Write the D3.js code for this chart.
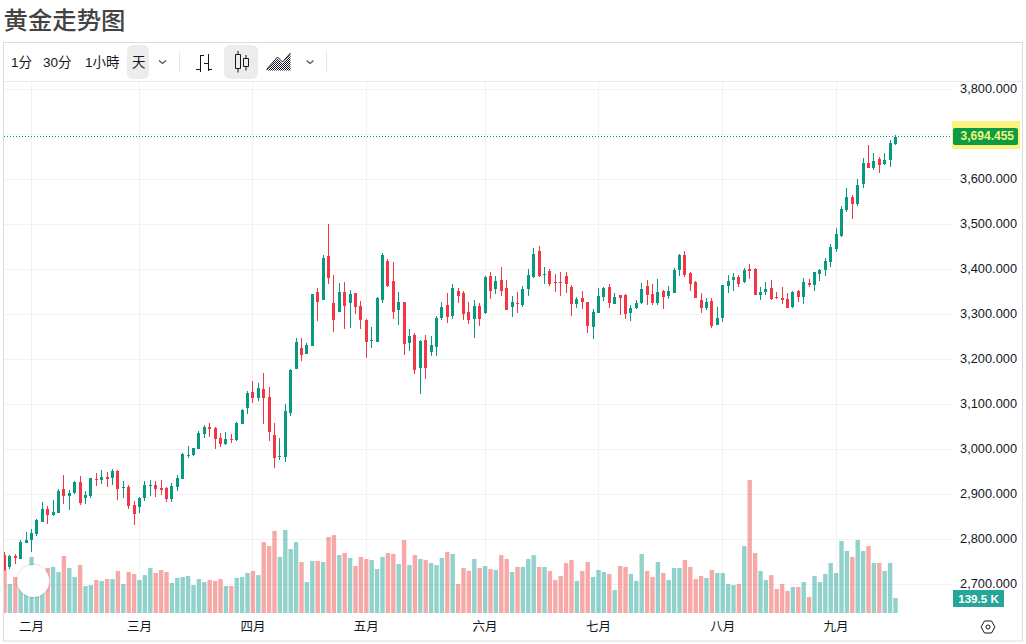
<!DOCTYPE html>
<html>
<head>
<meta charset="utf-8">
<script src="https://cdn.jsdelivr.net/npm/d3@7/dist/d3.min.js"></script>
<style>
  html, body { margin: 0; padding: 0; background: #fff; overflow: hidden; }
  svg { display: block; }
  text { font-family: "Liberation Sans", "Noto Sans CJK SC", sans-serif; fill: #131722; }
</style>
</head>
<body>
<div id="chart"></div>
<script>
const title = '黄金走势图';
const intervals = [['1分', 11], ['30分', 43], ['1小時', 85], ['天', 132]];

const priceTicks = [3800, 3700, 3600, 3500, 3400, 3300, 3200, 3100, 3000, 2900, 2800, 2700];
const monthLabels = ['二月', '三月', '四月', '五月', '六月', '七月', '八月', '九月'];
const monthBars = [5, 25, 46, 67, 89, 110, 133, 154];

const lastPrice = 3694.455;
const lastVolumeLabel = '139.5 K';

// daily candles, oldest first
const opens = [
  2764,2738.5,2763,2756,2792,2798.5,2812,2838.5,2867.4,2853.3,
  2858.5,2912,2896.3,2903,2927.4,2891.8,2896.3,2934,2932,2938.5,
  2936,2952,2914,2916,2876,2872,2891,2918,2920,2913.5,
  2913.5,2889,2915.7,2933.5,2984.6,2987,3000,3033.5,3049,3047,
  3024.6,3011,3022.4,3020,3055.7,3091,3127,3113.5,3133.5,3116,
  3031,2982,2982,3080,3178.7,3225,3212,3229.8,3349.8,3332,
  3429.8,3325.3,3305.3,3349.8,3325.3,3347.6,3318.7,3287.6,3241,3238.7,
  3332,3418.7,3374,3309.8,3327.6,3236.5,3254.2,3181,3243,3216.5,
  3227.6,3292,3321,3296.5,3352,3347.6,3305.3,3289.8,3318.7,3303,
  3385.3,3356.5,3376.3,3358.5,3316.3,3325.2,3320.7,3356.3,3383,3440.7,
  3387.4,3396.3,3371.9,3371.9,3385.2,3360.7,3323,3336.3,3327.4,3271.9,
  3303,3338.5,3360.7,3323,3343,3343,3303,3314,3325.2,3363,
  3345.2,3325.2,3351.8,3340.8,3347.4,3398.5,3431.9,3391.8,3371.9,3331.9,
  3314,3329.6,3276.3,3291.9,3363,3376.3,3383,3371.8,3400.7,3400.7,
  3342.9,3349.6,3358.5,3338.5,3336.3,3334,3316.3,3351.8,3338.5,3369.6,
  3365.2,3389.6,3398.5,3416.3,3445.2,3474,3531.8,3560.7,3545.2,3589.6,
  3636.3,3625.2,3645.2,3634,3643,3678.5
];
const highs = [
  2772,2765,2768,2798,2816,2823,2844,2883,2873,2886.6,
  2912,2943,2909,2929.6,2941,2907.4,2936.3,2947,2954,2949.6,
  2956,2954,2929.6,2921,2885,2894,2929,2931,2929,2931,
  2916,2924.6,2942,2991,3007,3002.4,3040,3053.5,3058,3049,
  3035.7,3038,3033.5,3060,3089,3129,3151,3147,3169,3138,
  3058,3024.6,3100,3178,3247.6,3247.6,3236.5,3345.3,3358.7,3432,
  3500.9,3387.6,3369.8,3372,3354.2,3347.6,3329.8,3289.8,3272,3338.7,
  3436.5,3423,3416.5,3349.8,3327.6,3267.6,3258.7,3243,3254.2,3252,
  3296.5,3327.6,3347.6,3367.6,3358.7,3352,3327.6,3332,3325.3,3385.3,
  3394,3385.3,3405.2,3376.3,3340.8,3349.6,3363,3400.7,3447.4,3451.8,
  3405.2,3400.7,3389.6,3394,3394,3365.2,3338.5,3351.8,3327.4,3311.9,
  3358.5,3360.7,3367.4,3347.4,3343,3345.2,3320.7,3331.9,3369.6,3376.3,
  3367.4,3378.5,3354,3363,3403,3434,3440.7,3394,3374,3347.4,
  3336.3,3336.3,3316.3,3365.2,3387.4,3391.8,3387.4,3403,3411.8,3403,
  3360.7,3371.8,3376.3,3349.6,3360.7,3347.4,3351.8,3354,3380.7,3378.5,
  3394,3400.7,3425.2,3456.3,3491.8,3540.7,3580.7,3565.2,3600.7,3647.4,
  3676.3,3658.5,3649.6,3658.5,3687.4,3698
];
const lows = [
  2729,2734,2745,2756,2792,2772,2807,2838,2834,2852.6,
  2858,2879,2865,2900.7,2876,2878.5,2892,2918.5,2923,2916,
  2921,2887,2892,2867,2832,2858,2885,2896,2893,2898,
  2882,2882,2907,2933,2980,2984.6,3000,3024.6,3027,3000,
  3004.6,3009,3013.5,3018,3055.7,3078,3102,3107,3056,3018,
  2958,2976,2971,3073.5,3178.7,3196.5,3212,3229.8,3285.3,3332,
  3367.6,3260.9,3305.3,3267.6,3269.8,3300.9,3267.6,3203,3225,3238.7,
  3325,3361,3289.8,3276.5,3209.8,3218.7,3167.6,3123,3156.5,3207.6,
  3207.6,3287.6,3280.9,3289.8,3325.3,3287.6,3278.7,3247.6,3274.2,3300.9,
  3334,3345.3,3340.8,3309.6,3294,3303,3316.3,3340.8,3380.8,3383,
  3367.4,3363,3349.6,3340.8,3347.4,3296.3,3314,3311.9,3258.5,3245.2,
  3303,3329.6,3314,3323,3298.5,3289.6,3285.2,3311.9,3323,3320.7,
  3320.7,3320.7,3311.9,3334,3347.4,3385.2,3383,3351.8,3336.3,3303,
  3309.6,3269.6,3276.3,3283,3347.4,3351.8,3360.7,3369.6,3378.5,3342.9,
  3331.8,3342.9,3331.8,3334,3323,3314,3314,3327.4,3323,3360.7,
  3351.8,3374,3385.2,3405.2,3438.5,3471.8,3527.4,3511.8,3540.7,3580.7,
  3625.2,3620.7,3614,3631.8,3627.4,3676.3
];
const closes = [
  2731,2763,2758,2793,2798.5,2814,2842,2866.6,2854,2860,
  2907.4,2896.3,2903.7,2927.4,2880.7,2898.5,2936.3,2932,2938.5,2934,
  2952,2912,2916,2874,2856,2892,2920,2920,2911,2909,
  2889,2918,2935.7,2989,2987,3002.4,3035.7,3049,3044.6,3022.4,
  3011,3022.4,3020,3058,3087,3124.6,3113.5,3135.7,3113.5,3038,
  2980,2984.6,3084.6,3175.8,3238.7,3209.8,3232,3345.3,3327.6,3425.3,
  3381,3287.6,3349.8,3318.7,3345.3,3316.5,3287.6,3238.7,3243,3336.5,
  3432,3363,3305.3,3327.6,3234.2,3252,3176.5,3241,3181,3232,
  3292,3316.5,3294.2,3358.7,3340.9,3300.9,3287.6,3318.7,3289.8,3383,
  3352,3374,3351.8,3309.6,3327.4,3323,3356.3,3387.4,3434,3385.2,
  3389.6,3367.4,3369.6,3369.6,3367.4,3323,3334,3327.4,3274,3305.2,
  3340.8,3358.5,3325.2,3338.5,3336.3,3300.7,3314,3325.2,3356.3,3343,
  3325.2,3349.6,3338.5,3351.8,3398.5,3431.9,3387.4,3367.4,3336.3,3314,
  3327.4,3274,3291.9,3365.2,3374,3383,3368,3398.5,3396.3,3342.9,
  3349.6,3356.3,3334,3336.3,3331.8,3314,3349.6,3338.5,3371.8,3365.2,
  3394,3398.5,3418.5,3449.6,3478.5,3534,3560.7,3545.2,3587.4,3636.3,
  3625.2,3640.7,3631.8,3643,3680.7,3694.455
];
// volume in thousands
const volumes = [
  406,270,335,340,390,521,400,360,418,428,
  381,530,418,335,446,251,260,307,298,316,
  316,391,270,381,363,307,353,418,372,400,
  381,279,326,335,344,260,316,288,307,298,
  316,251,251,326,335,372,391,353,660,623,
  763,521,772,595,660,474,288,484,484,474,
  707,725,539,558,512,437,521,502,493,409,
  521,558,549,456,679,446,539,502,493,465,
  446,512,567,549,270,419,391,502,419,437,
  409,400,539,502,381,428,428,502,539,428,
  428,391,307,344,465,493,298,391,474,335,
  400,381,363,214,437,428,363,298,549,391,
  335,474,372,307,419,419,493,428,316,344,
  326,400,372,372,270,260,270,623,1237,558,
  391,307,353,223,270,205,242,242,288,149,
  344,288,363,465,372,670,577,521,679,577,
  623,465,465,391,465,139.5
];

const bars = d3.range(opens.length);

const W = 1026, H = 644;
const plotLeft = 4, plotRight = 952, plotTop = 82, plotBottom = 613;

const svg = d3.select('#chart').append('svg').attr('width', W).attr('height', H);

const defs = svg.append('defs');
defs.append('clipPath').attr('id', 'plot-clip').append('rect')
  .attr('x', plotLeft).attr('y', plotTop)
  .attr('width', plotRight - plotLeft).attr('height', plotBottom - plotTop);
const hatch = defs.append('pattern').attr('id', 'hatch')
  .attr('width', 2).attr('height', 2).attr('patternUnits', 'userSpaceOnUse');
hatch.append('rect').attr('width', 1).attr('height', 1).attr('fill', '#131722');
hatch.append('rect').attr('x', 1).attr('y', 1).attr('width', 1).attr('height', 1).attr('fill', '#131722');
const blur = defs.append('filter').attr('id', 'soft').attr('x', '-30%').attr('y', '-30%').attr('width', '160%').attr('height', '160%');
blur.append('feDropShadow').attr('dx', 0).attr('dy', 0).attr('stdDeviation', 1.2).attr('flood-color', '#000').attr('flood-opacity', 0.3);

const x = d3.scaleLinear().domain([0, opens.length - 1]).range([4.5, 895.5]);
const y = d3.scaleLinear().domain([2700, 3800]).range([584.2, 89.2]);
const yVol = d3.scaleLinear().domain([0, 1237]).range([plotBottom, 480]);

// Title
svg.append('text').attr('x', 3.5).attr('y', 29)
  .attr('font-size', 24.4).attr('font-weight', 500)
  .style('font-family', '"Noto Sans CJK SC"').style('fill', '#434343')
  .text(title);

// Frame
svg.append('rect').attr('x', 3.5).attr('y', 42.5).attr('width', 1019).attr('height', 598.5)
  .attr('fill', 'none').attr('stroke', '#dcdcdc');
svg.append('line').attr('x1', 4).attr('x2', 1022).attr('y1', 81.5).attr('y2', 81.5)
  .attr('stroke', '#e9e9e9');

// Toolbar
const toolbar = svg.append('g');
toolbar.append('rect').attr('x', 127).attr('y', 45).attr('width', 22).attr('height', 34).attr('rx', 6).attr('fill', '#ececec');
toolbar.append('rect').attr('x', 224).attr('y', 45).attr('width', 34).attr('height', 34).attr('rx', 6).attr('fill', '#ececec');
toolbar.selectAll('text.interval').data(intervals).join('text')
  .attr('class', 'interval')
  .attr('x', d => d[1]).attr('y', 67)
  .attr('font-size', 13.5)
  .text(d => d[0]);
[162.5, 310].forEach(cx => {
  toolbar.append('path').attr('d', `M${cx - 3.5},60.5 L${cx},63.5 L${cx + 3.5},60.5`)
    .attr('fill', 'none').attr('stroke', '#4a4a4a').attr('stroke-width', 1.1);
});
[179.5, 326.5].forEach(sx => {
  toolbar.append('line').attr('x1', sx).attr('x2', sx).attr('y1', 51).attr('y2', 73).attr('stroke', '#e6e6e6');
});
toolbar.append('path')
  .attr('d', 'M200.5,55V72 M200.5,55.5H204 M196,69.5H200.5 M208.5,54V71 M204,63.5H208.5 M208.5,69.5H212')
  .attr('fill', 'none').attr('stroke', '#131722');
toolbar.append('path')
  .attr('d', 'M235.5,54.5H240.5V68.5H235.5Z M238,51V54.5 M238,68.5V72.5 M243.5,58.5H248.5V66.5H243.5Z M246,55V58.5 M246,66.5V70.5')
  .attr('fill', 'none').attr('stroke', '#131722');
toolbar.append('path')
  .attr('d', 'M266.5,70.5 L277.5,58 L282.5,63 L290.5,54 V70.5 Z')
  .attr('fill', 'url(#hatch)');
toolbar.append('path')
  .attr('d', 'M266.5,69.5 L277.5,57 L282.5,62 L290.5,53')
  .attr('fill', 'none').attr('stroke', '#131722').attr('stroke-width', 1);

// Grid
const grid = svg.append('g').attr('shape-rendering', 'crispEdges');
grid.selectAll('line.h').data(priceTicks).join('line')
  .attr('class', 'h')
  .attr('x1', plotLeft).attr('x2', plotRight)
  .attr('y1', d => y(d)).attr('y2', d => y(d))
  .attr('stroke', '#f2f2f2');
grid.selectAll('line.v').data(monthBars).join('line')
  .attr('class', 'v')
  .attr('x1', d => Math.floor(x(d)) + 0.5).attr('x2', d => Math.floor(x(d)) + 0.5)
  .attr('y1', plotTop).attr('y2', plotBottom)
  .attr('stroke', '#f2f2f2');

const plot = svg.append('g').attr('clip-path', 'url(#plot-clip)');

// Volume
plot.selectAll('rect.vol').data(bars).join('rect')
  .attr('class', 'vol')
  .attr('x', i => x(i) - 2.2)
  .attr('width', 4.4)
  .attr('y', i => yVol(volumes[i]))
  .attr('height', i => plotBottom - yVol(volumes[i]))
  .attr('fill', i => closes[i] >= opens[i] ? '#26a69a' : '#ef5350')
  .attr('fill-opacity', 0.5);

// Last price line
plot.append('line')
  .attr('x1', plotLeft).attr('x2', plotRight)
  .attr('y1', y(lastPrice)).attr('y2', y(lastPrice))
  .attr('stroke', '#089981').attr('stroke-dasharray', '1,2')
  .attr('shape-rendering', 'crispEdges');

// Candles
const candleColor = i => closes[i] >= opens[i] ? '#089981' : '#f23645';
const candles = plot.append('g').attr('shape-rendering', 'crispEdges');
candles.selectAll('rect.wick').data(bars).join('rect')
  .attr('class', 'wick')
  .attr('x', i => Math.floor(x(i)))
  .attr('width', 1)
  .attr('y', i => y(highs[i]))
  .attr('height', i => y(lows[i]) - y(highs[i]))
  .attr('fill', candleColor);
candles.selectAll('rect.body').data(bars).join('rect')
  .attr('class', 'body')
  .attr('x', i => Math.floor(x(i)) - 1)
  .attr('width', 3)
  .attr('y', i => y(Math.max(opens[i], closes[i])))
  .attr('height', i => Math.max(1, Math.abs(y(opens[i]) - y(closes[i]))))
  .attr('fill', candleColor);

// Round badge in the lower left
svg.append('circle').attr('cx', 33.3).attr('cy', 581).attr('r', 16)
  .attr('fill', '#fff').attr('filter', 'url(#soft)');

// Price axis
svg.selectAll('text.price').data(priceTicks.filter(d => d !== 3700)).join('text')
  .attr('class', 'price')
  .attr('x', 1017).attr('y', d => y(d) + 3.3)
  .attr('text-anchor', 'end')
  .attr('font-size', 12.8)
  .text(d => d3.format(',.3f')(d));

// Month axis
svg.selectAll('text.month').data(monthBars).join('text')
  .attr('class', 'month')
  .attr('x', d => x(d)).attr('y', 631)
  .attr('text-anchor', 'middle')
  .attr('font-size', 12.5)
  .text((d, i) => monthLabels[i]);

// Last price label
svg.append('rect').attr('x', 952).attr('y', 121).attr('width', 68).attr('height', 28).attr('fill', '#fbf37e');
svg.append('rect').attr('x', 953).attr('y', 128).attr('width', 65).attr('height', 17).attr('rx', 2).attr('fill', '#0d9b45');
svg.append('text').attr('x', 1014).attr('y', y(lastPrice) + 3.3)
  .attr('text-anchor', 'end').attr('font-size', 12).attr('font-weight', 700)
  .style('fill', '#f4f47c')
  .text(d3.format(',.3f')(lastPrice));

// Volume label
svg.append('rect').attr('x', 953).attr('y', 590).attr('width', 51).attr('height', 17).attr('fill', '#26a69a');
svg.append('text').attr('x', 978.5).attr('y', 603)
  .attr('text-anchor', 'middle').attr('font-size', 11.6).attr('font-weight', 700)
  .style('fill', '#fff')
  .text(lastVolumeLabel);

// Settings icon
svg.append('path')
  .attr('d', 'M981,627 L984.5,621 H991.5 L995,627 L991.5,633 H984.5 Z')
  .attr('fill', 'none').attr('stroke', '#131722');
svg.append('circle').attr('cx', 988).attr('cy', 627).attr('r', 2)
  .attr('fill', 'none').attr('stroke', '#131722');
</script>
</body>
</html>
